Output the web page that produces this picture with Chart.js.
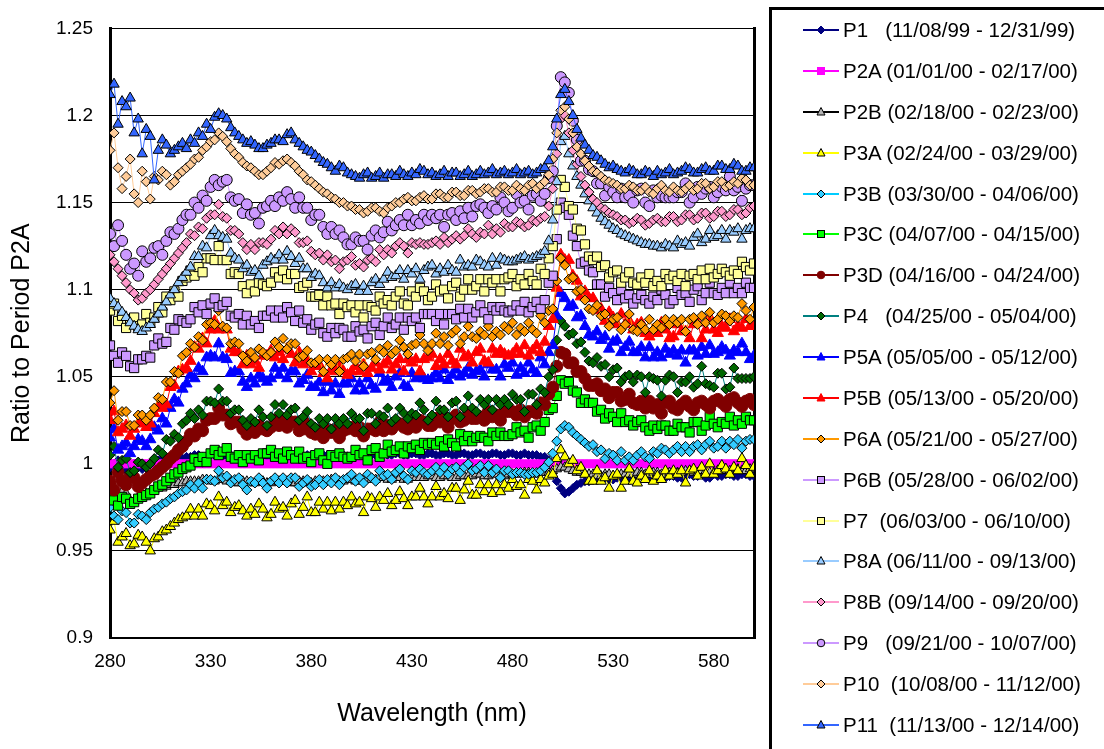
<!DOCTYPE html>
<html><head><meta charset="utf-8">
<script src="https://cdn.jsdelivr.net/npm/chart.js@4"></script>
<style>
html,body{margin:0;padding:0;background:#fff;}
#wrap{position:relative;width:1104px;height:749px;overflow:hidden;background:#fff;}
#c{position:absolute;left:0;top:0;}
#legend{position:absolute;left:769px;top:7px;width:400px;height:800px;border:3px solid #000;box-sizing:border-box;}
.row{position:absolute;left:0;height:24px;display:flex;align-items:center;font:20.5px 'Liberation Sans',Arial,sans-serif;white-space:pre;color:#000;}
.row svg{margin-left:31px;margin-right:4px;flex:none;}
</style></head>
<body>
<div id="wrap">
<canvas id="c" width="1104" height="749"></canvas>
<div id="legend"></div>
</div>
<script>
const wavelengths = [
280,282,284,286,288,290,292,294,296,298,300,302,304,306,308,310,312,314,316,318,
320,322,324,326,328,330,332,334,336,338,340,342,344,346,348,350,352,354,356,358,
360,362,364,366,368,370,372,374,376,378,380,382,384,386,388,390,392,394,396,398,
400,402,404,406,408,410,412,414,416,418,420,422,424,426,428,430,432,434,436,438,
440,442,444,446,448,450,452,454,456,458,460,462,464,466,468,470,472,474,476,478,
480,482,484,486,488,490,492,494,496,498,500,502,504,506,508,510,512,514,516,518,
520,522,524,526,528,530,532,534,536,538,540,542,544,546,548,550,552,554,556,558,
560,562,564,566,568,570,572,574,576,578,580,582,584,586,588,590,592,594,596,598,
600];
const xTicks = [280,330,380,430,480,530,580];
const yTicks = [0.9,0.95,1,1.05,1.1,1.15,1.2,1.25];
const seriesNames = ["P1","P2A","P2B","P3A","P3B","P3C","P3D","P4","P5A","P5B","P6A","P6B","P7","P8A","P8B","P9","P10","P11"];
const periodLabels = ["P1   (11/08/99 - 12/31/99)","P2A (01/01/00 - 02/17/00)","P2B (02/18/00 - 02/23/00)","P3A (02/24/00 - 03/29/00)","P3B (03/30/00 - 04/06/00)","P3C (04/07/00 - 04/15/00)","P3D (04/16/00 - 04/24/00)","P4   (04/25/00 - 05/04/00)","P5A (05/05/00 - 05/12/00)","P5B (05/13/00 - 05/20/00)","P6A (05/21/00 - 05/27/00)","P6B (05/28/00 - 06/02/00)","P7  (06/03/00 - 06/10/00)","P8A (06/11/00 - 09/13/00)","P8B (09/14/00 - 09/20/00)","P9   (09/21/00 - 10/07/00)","P10  (10/08/00 - 11/12/00)","P11  (11/13/00 - 12/14/00)"];

const p1 = [
0.998,1.0,1.002,0.999,0.996,0.998,1.0,0.998,0.997,0.999,1.0,1.001,1.002,1.003,1.003,1.004,1.004,1.003,1.003,1.004,
1.004,1.005,1.005,1.004,1.004,1.005,1.005,1.004,1.004,1.005,1.005,1.004,1.004,1.005,1.005,1.004,1.004,1.005,1.005,1.004,
1.004,1.005,1.005,1.004,1.004,1.005,1.005,1.004,1.004,1.005,1.005,1.004,1.004,1.005,1.005,1.004,1.004,1.005,1.005,1.004,
1.004,1.005,1.005,1.004,1.004,1.005,1.005,1.006,1.006,1.005,1.005,1.006,1.006,1.005,1.005,1.006,1.006,1.005,1.005,1.006,
1.006,1.005,1.005,1.006,1.006,1.005,1.005,1.006,1.006,1.005,1.005,1.006,1.006,1.005,1.005,1.006,1.006,1.005,1.005,1.006,
1.006,1.005,1.005,1.006,1.005,1.005,1.005,1.004,1.004,1.002,0.997,0.99,0.986,0.983,0.984,0.986,0.988,0.989,0.99,0.99,
0.991,0.991,0.992,0.992,0.991,0.991,0.992,0.992,0.991,0.991,0.992,0.993,0.993,0.992,0.992,0.993,0.993,0.992,0.992,0.993,
0.993,0.992,0.992,0.993,0.994,0.993,0.993,0.994,0.992,0.992,0.994,0.993,0.993,0.994,0.994,0.993,0.993,0.994,0.994,0.993,
0.993];
const p2a = [
1,1,1,1,1,1,1,1,1,1,1,1,1,1,1,1,1,1,1,1,
1,1,1,1,1,1,1,1,1,1,1,1,1,1,1,1,1,1,1,1,
1,1,1,1,1,1,1,1,1,1,1,1,1,1,1,1,1,1,1,1,
1,1,1,1,1,1,1,1,1,1,1,1,1,1,1,1,1,1,1,1,
1,1,1,1,1,1,1,1,1,1,1,1,1,1,1,1,1,1,1,1,
1,1,1,1,1,1,1,1,1,1,1,1,1,1,1,1,1,1,1,1,
1,1,1,1,1,1,1,1,1,1,1,1,1,1,1,1,1,1,1,1,
1,1,1,1,1,1,1,1,1,1,1,1,1,1,1,1,1,1,1,1,
1];
const p2b = [
0.985,0.982,0.98,0.984,0.983,0.979,0.978,0.981,0.982,0.983,0.984,0.985,0.986,0.986,0.987,0.988,0.988,0.989,0.989,0.99,
0.99,0.99,0.99,0.991,0.991,0.99,0.99,0.991,0.991,0.99,0.99,0.989,0.989,0.99,0.99,0.989,0.989,0.99,0.99,0.989,
0.989,0.99,0.99,0.99,0.99,0.989,0.989,0.99,0.99,0.989,0.989,0.99,0.99,0.99,0.99,0.991,0.991,0.99,0.99,0.991,
0.991,0.99,0.99,0.991,0.991,0.991,0.991,0.992,0.992,0.991,0.991,0.992,0.992,0.991,0.991,0.992,0.992,0.992,0.992,0.993,
0.993,0.992,0.992,0.993,0.993,0.992,0.992,0.993,0.993,0.993,0.993,0.994,0.994,0.993,0.993,0.994,0.994,0.993,0.993,0.994,
0.994,0.994,0.994,0.995,0.995,0.994,0.994,0.995,0.995,0.995,0.996,0.997,0.998,0.998,0.997,0.996,0.995,0.995,0.994,0.994,
0.994,0.993,0.993,0.994,0.994,0.993,0.993,0.994,0.994,0.994,0.994,0.995,0.995,0.994,0.994,0.995,0.995,0.994,0.994,0.995,
0.995,0.995,0.995,0.996,0.996,0.995,0.995,0.996,0.996,0.995,0.995,0.996,0.996,0.996,0.996,0.997,0.997,0.996,0.996,0.997,
0.997];
const p3a = [
0.962,0.967,0.955,0.958,0.96,0.953,0.954,0.959,0.958,0.955,0.95,0.957,0.958,0.961,0.962,0.964,0.966,0.968,0.969,0.97,
0.974,0.970,0.974,0.970,0.977,0.976,0.973,0.981,0.976,0.978,0.972,0.975,0.976,0.973,0.970,0.974,0.971,0.977,0.974,0.969,
0.971,0.978,0.974,0.975,0.970,0.977,0.979,0.971,0.975,0.981,0.972,0.972,0.978,0.974,0.978,0.973,0.978,0.974,0.978,0.976,
0.981,0.977,0.978,0.972,0.981,0.980,0.975,0.981,0.979,0.983,0.976,0.979,0.984,0.980,0.976,0.981,0.981,0.986,0.981,0.977,
0.981,0.987,0.981,0.983,0.980,0.986,0.986,0.979,0.985,0.990,0.982,0.982,0.988,0.984,0.988,0.983,0.988,0.984,0.988,0.986,
0.991,0.987,0.988,0.982,0.991,0.990,0.985,0.991,0.989,0.993,0.994,1.003,1.008,1.004,1.000,1.002,0.996,0.998,0.994,0.990,
0.990,0.996,0.990,0.992,0.986,0.993,0.994,0.986,0.990,0.997,0.990,0.989,0.993,0.991,0.996,0.990,0.993,0.991,0.996,0.993,
0.996,0.994,0.996,0.989,0.996,0.997,0.993,0.998,0.994,1.000,0.994,0.996,0.999,0.997,0.994,0.998,0.996,1.003,0.999,0.994,
0.998];
const p3b = [
0.975,0.97,0.968,0.973,0.972,0.966,0.966,0.971,0.97,0.968,0.972,0.974,0.975,0.977,0.978,0.98,0.981,0.983,0.984,0.985,
0.988,0.986,0.989,0.986,0.991,0.991,0.990,0.996,0.992,0.993,0.989,0.991,0.992,0.988,0.985,0.990,0.989,0.992,0.989,0.986,
0.990,0.992,0.989,0.992,0.989,0.992,0.992,0.987,0.989,0.991,0.987,0.988,0.991,0.988,0.991,0.989,0.992,0.988,0.991,0.992,
0.994,0.990,0.992,0.989,0.994,0.992,0.990,0.996,0.993,0.994,0.991,0.995,0.997,0.993,0.991,0.996,0.995,0.997,0.995,0.994,
0.996,0.998,0.995,0.998,0.994,0.997,0.998,0.995,0.998,1.000,0.996,0.997,0.999,0.995,0.999,0.995,0.997,0.992,0.996,0.996,
0.994,0.995,0.995,0.994,0.994,0.995,0.995,0.996,0.998,1.001,1.006,1.013,1.02,1.022,1.021,1.018,1.016,1.014,1.012,1.01,
1.011,1.007,1.008,1.003,1.006,1.005,1.002,1.007,1.002,1.004,1.002,1.005,1.007,1.004,1.003,1.007,1.006,1.009,1.008,1.006,
1.008,1.010,1.007,1.010,1.007,1.010,1.011,1.008,1.011,1.013,1.009,1.010,1.013,1.009,1.013,1.011,1.014,1.009,1.013,1.014,
1.014];
const p3c = [
0.982,0.979,0.976,0.981,0.98,0.977,0.978,0.98,0.981,0.982,0.983,0.985,0.987,0.988,0.99,0.992,0.994,0.995,0.997,0.998,
0.999,1.003,1.001,1.004,1.001,1.006,1.008,1.005,1.007,1.009,1.004,1.003,1.005,1.001,1.005,1.003,1.005,1.002,1.006,1.006,
1.008,1.004,1.006,1.003,1.007,1.005,1.003,1.007,1.003,1.004,1.001,1.005,1.006,1.002,1.000,1.005,1.004,1.006,1.004,1.003,
1.004,1.008,1.005,1.006,1.002,1.008,1.009,1.004,1.006,1.011,1.007,1.008,1.010,1.006,1.010,1.009,1.011,1.008,1.012,1.011,
1.012,1.011,1.013,1.010,1.014,1.012,1.010,1.017,1.013,1.016,1.013,1.015,1.016,1.015,1.013,1.018,1.016,1.018,1.016,1.016,
1.017,1.021,1.018,1.019,1.015,1.021,1.022,1.019,1.024,1.031,1.032,1.039,1.048,1.046,1.047,1.042,1.041,1.035,1.037,1.035,
1.035,1.030,1.031,1.026,1.029,1.027,1.024,1.029,1.024,1.025,1.022,1.024,1.025,1.021,1.019,1.022,1.020,1.022,1.022,1.019,
1.019,1.023,1.021,1.021,1.018,1.024,1.024,1.019,1.022,1.027,1.023,1.021,1.024,1.023,1.027,1.022,1.025,1.023,1.027,1.025,
1.025];
const p3d = [
0.99,0.985,0.995,0.99,0.988,0.993,0.992,0.987,0.989,0.991,0.993,0.994,0.996,0.998,1.0,1.003,1.005,1.008,1.01,1.013,
1.017,1.016,1.020,1.019,1.025,1.026,1.026,1.032,1.028,1.028,1.023,1.024,1.024,1.020,1.017,1.020,1.018,1.022,1.020,1.019,
1.021,1.025,1.022,1.025,1.021,1.024,1.024,1.019,1.020,1.023,1.018,1.017,1.019,1.015,1.020,1.018,1.020,1.015,1.019,1.020,
1.021,1.019,1.021,1.016,1.020,1.020,1.019,1.024,1.019,1.022,1.020,1.023,1.023,1.021,1.020,1.024,1.021,1.025,1.024,1.022,
1.022,1.026,1.024,1.026,1.021,1.026,1.028,1.024,1.025,1.029,1.026,1.026,1.027,1.025,1.030,1.027,1.028,1.025,1.030,1.030,
1.030,1.028,1.031,1.027,1.030,1.030,1.029,1.035,1.034,1.040,1.044,1.056,1.064,1.063,1.058,1.058,1.053,1.053,1.049,1.045,
1.045,1.046,1.042,1.043,1.038,1.041,1.041,1.036,1.037,1.040,1.035,1.034,1.036,1.032,1.036,1.032,1.034,1.029,1.035,1.036,
1.032,1.031,1.034,1.036,1.033,1.031,1.035,1.036,1.034,1.032,1.036,1.037,1.035,1.033,1.037,1.038,1.035,1.033,1.036,1.037,
1.034];
const p4 = [
1.005,1.010,0.998,1.002,1.003,0.995,0.996,1.001,1.000,0.998,1.000,1.003,1.008,1.006,1.014,1.013,1.017,1.015,1.023,1.025,
1.029,1.026,1.031,1.028,1.036,1.036,1.035,1.043,1.036,1.036,1.029,1.031,1.031,1.025,1.022,1.026,1.024,1.031,1.027,1.022,
1.027,1.034,1.029,1.034,1.028,1.031,1.032,1.025,1.027,1.030,1.023,1.021,1.026,1.023,1.026,1.020,1.026,1.023,1.026,1.023,
1.029,1.026,1.026,1.019,1.029,1.029,1.023,1.028,1.027,1.032,1.024,1.026,1.032,1.029,1.026,1.029,1.028,1.035,1.031,1.025,
1.028,1.036,1.031,1.031,1.027,1.035,1.036,1.027,1.032,1.039,1.032,1.030,1.037,1.034,1.037,1.031,1.037,1.034,1.037,1.034,
1.040,1.037,1.037,1.030,1.040,1.040,1.034,1.043,1.041,1.050,1.054,1.071,1.082,1.079,1.074,1.075,1.069,1.070,1.064,1.059,
1.058,1.061,1.056,1.057,1.050,1.054,1.055,1.047,1.050,1.051,1.047,1.051,1.050,1.041,1.050,1.049,1.048,1.039,1.048,1.051,
1.050,1.041,1.047,1.047,1.050,1.044,1.046,1.056,1.046,1.045,1.044,1.052,1.052,1.043,1.044,1.055,1.049,1.049,1.049,1.049,
1.05];
const p5a = [
1.015,1.020,1.008,1.010,1.012,1.006,1.010,1.014,1.013,1.010,1.014,1.021,1.019,1.026,1.023,1.032,1.037,1.035,1.043,1.046,
1.051,1.049,1.055,1.053,1.061,1.062,1.061,1.069,1.061,1.060,1.052,1.053,1.053,1.047,1.044,1.049,1.046,1.051,1.049,1.047,
1.049,1.055,1.051,1.055,1.049,1.053,1.053,1.046,1.048,1.051,1.044,1.044,1.047,1.041,1.047,1.042,1.046,1.040,1.046,1.046,
1.049,1.042,1.046,1.042,1.049,1.045,1.043,1.052,1.047,1.048,1.044,1.050,1.052,1.045,1.044,1.052,1.049,1.051,1.049,1.048,
1.049,1.052,1.049,1.054,1.048,1.051,1.054,1.050,1.052,1.055,1.051,1.053,1.054,1.050,1.057,1.054,1.054,1.050,1.057,1.055,
1.058,1.051,1.055,1.052,1.058,1.054,1.052,1.061,1.057,1.064,1.068,1.085,1.098,1.095,1.090,1.091,1.084,1.085,1.079,1.074,
1.073,1.076,1.071,1.073,1.066,1.070,1.071,1.064,1.067,1.070,1.064,1.064,1.067,1.061,1.067,1.061,1.064,1.061,1.066,1.063,
1.065,1.062,1.065,1.058,1.065,1.065,1.062,1.067,1.063,1.068,1.063,1.064,1.067,1.065,1.062,1.065,1.064,1.069,1.064,1.060,
1.062];
const p5b = [
1.025,1.03,1.018,1.02,1.022,1.016,1.02,1.023,1.024,1.021,1.023,1.029,1.033,1.032,1.034,1.044,1.045,1.053,1.054,1.055,
1.059,1.067,1.066,1.072,1.069,1.077,1.082,1.077,1.078,1.077,1.066,1.064,1.064,1.057,1.062,1.057,1.059,1.055,1.062,1.062,
1.065,1.061,1.064,1.060,1.066,1.063,1.058,1.064,1.057,1.059,1.053,1.056,1.057,1.052,1.049,1.054,1.053,1.056,1.053,1.051,
1.053,1.056,1.053,1.057,1.052,1.055,1.058,1.054,1.057,1.059,1.054,1.057,1.060,1.053,1.060,1.058,1.060,1.053,1.060,1.061,
1.063,1.056,1.060,1.057,1.063,1.059,1.057,1.066,1.061,1.062,1.058,1.064,1.066,1.059,1.058,1.066,1.063,1.065,1.063,1.062,
1.063,1.066,1.063,1.068,1.062,1.065,1.068,1.064,1.070,1.079,1.083,1.101,1.120,1.117,1.117,1.108,1.105,1.096,1.099,1.095,
1.095,1.088,1.089,1.082,1.087,1.084,1.080,1.086,1.080,1.082,1.077,1.080,1.081,1.075,1.073,1.077,1.075,1.081,1.077,1.072,
1.073,1.080,1.076,1.076,1.072,1.080,1.081,1.072,1.077,1.084,1.077,1.075,1.079,1.078,1.083,1.076,1.079,1.078,1.083,1.079,
1.079];
const p6a = [
1.035,1.042,1.025,1.03,1.03,1.022,1.022,1.028,1.028,1.025,1.028,1.032,1.038,1.037,1.047,1.047,1.053,1.052,1.062,1.064,
1.069,1.067,1.073,1.071,1.080,1.081,1.080,1.088,1.079,1.078,1.069,1.070,1.069,1.062,1.059,1.064,1.061,1.066,1.064,1.062,
1.064,1.070,1.067,1.072,1.066,1.069,1.069,1.061,1.062,1.065,1.058,1.058,1.060,1.053,1.060,1.057,1.060,1.053,1.060,1.061,
1.063,1.059,1.063,1.056,1.063,1.064,1.060,1.066,1.064,1.068,1.063,1.065,1.071,1.067,1.063,1.068,1.069,1.074,1.069,1.065,
1.069,1.075,1.069,1.073,1.068,1.075,1.077,1.069,1.073,1.079,1.073,1.072,1.076,1.074,1.079,1.073,1.076,1.074,1.079,1.077,
1.081,1.074,1.078,1.076,1.081,1.077,1.075,1.085,1.081,1.088,1.089,1.105,1.118,1.114,1.106,1.107,1.099,1.100,1.094,1.089,
1.088,1.091,1.085,1.086,1.079,1.083,1.084,1.077,1.080,1.086,1.077,1.076,1.080,1.077,1.083,1.077,1.080,1.078,1.083,1.080,
1.083,1.081,1.083,1.076,1.083,1.084,1.080,1.085,1.081,1.087,1.081,1.083,1.086,1.085,1.082,1.085,1.084,1.092,1.088,1.083,
1.09];
const p6b = [
1.068,1.062,1.058,1.064,1.062,1.056,1.055,1.06,1.06,1.062,1.061,1.068,1.072,1.069,1.070,1.078,1.077,1.083,1.082,1.081,
1.083,1.090,1.087,1.091,1.086,1.092,1.095,1.090,1.091,1.093,1.085,1.084,1.086,1.080,1.085,1.080,1.082,1.078,1.085,1.085,
1.088,1.084,1.088,1.084,1.090,1.087,1.082,1.088,1.081,1.083,1.077,1.080,1.081,1.075,1.073,1.078,1.075,1.078,1.077,1.073,
1.073,1.079,1.076,1.077,1.072,1.079,1.081,1.074,1.079,1.084,1.078,1.080,1.084,1.077,1.084,1.082,1.084,1.078,1.086,1.086,
1.086,1.082,1.086,1.080,1.086,1.086,1.083,1.089,1.084,1.089,1.084,1.087,1.091,1.087,1.083,1.090,1.088,1.090,1.088,1.087,
1.088,1.091,1.088,1.093,1.087,1.090,1.093,1.089,1.094,1.104,1.108,1.129,1.150,1.147,1.143,1.131,1.125,1.115,1.116,1.111,
1.110,1.103,1.103,1.096,1.101,1.098,1.094,1.100,1.095,1.097,1.092,1.095,1.097,1.094,1.092,1.096,1.094,1.100,1.097,1.092,
1.094,1.101,1.097,1.098,1.093,1.100,1.102,1.094,1.098,1.104,1.098,1.097,1.101,1.098,1.104,1.098,1.101,1.098,1.104,1.101,
1.101];
const p7 = [
1.088,1.092,1.082,1.085,1.078,1.083,1.084,1.079,1.08,1.086,1.081,1.084,1.090,1.087,1.096,1.094,1.099,1.096,1.105,1.107,
1.111,1.108,1.113,1.110,1.118,1.118,1.117,1.125,1.117,1.117,1.109,1.110,1.109,1.102,1.098,1.103,1.099,1.104,1.103,1.102,
1.104,1.110,1.107,1.111,1.106,1.109,1.109,1.101,1.102,1.104,1.096,1.096,1.097,1.091,1.096,1.091,1.092,1.086,1.092,1.090,
1.091,1.087,1.091,1.084,1.091,1.090,1.088,1.096,1.092,1.094,1.091,1.096,1.099,1.092,1.091,1.099,1.096,1.101,1.099,1.094,
1.096,1.103,1.099,1.100,1.095,1.102,1.104,1.096,1.100,1.106,1.100,1.102,1.106,1.099,1.106,1.104,1.106,1.099,1.106,1.107,
1.109,1.102,1.106,1.103,1.109,1.105,1.103,1.112,1.109,1.118,1.125,1.146,1.163,1.159,1.148,1.146,1.135,1.134,1.126,1.119,
1.117,1.119,1.113,1.114,1.107,1.110,1.111,1.104,1.107,1.110,1.104,1.103,1.107,1.104,1.109,1.102,1.105,1.102,1.109,1.106,
1.108,1.105,1.109,1.102,1.108,1.109,1.106,1.111,1.106,1.112,1.107,1.109,1.112,1.110,1.108,1.111,1.109,1.116,1.113,1.111,
1.115];
const p8a = [
1.095,1.092,1.09,1.087,1.084,1.081,1.079,1.077,1.076,1.078,1.08,1.083,1.086,1.09,1.093,1.097,1.1,1.104,1.107,1.11,
1.113,1.119,1.119,1.125,1.124,1.131,1.134,1.131,1.130,1.129,1.121,1.118,1.117,1.112,1.114,1.110,1.111,1.108,1.114,1.116,
1.118,1.117,1.120,1.117,1.122,1.119,1.115,1.118,1.112,1.112,1.107,1.109,1.108,1.104,1.101,1.104,1.101,1.103,1.101,1.100,
1.102,1.103,1.099,1.102,1.099,1.104,1.106,1.103,1.106,1.110,1.107,1.108,1.111,1.106,1.111,1.109,1.112,1.106,1.111,1.113,
1.114,1.109,1.112,1.110,1.114,1.111,1.110,1.117,1.113,1.114,1.113,1.117,1.116,1.114,1.113,1.118,1.114,1.118,1.117,1.116,
1.116,1.117,1.118,1.119,1.117,1.118,1.119,1.12,1.122,1.128,1.14,1.162,1.185,1.188,1.178,1.171,1.165,1.16,1.155,1.151,
1.147,1.144,1.141,1.139,1.137,1.135,1.134,1.132,1.131,1.13,1.129,1.128,1.127,1.126,1.126,1.125,1.125,1.124,1.126,1.125,
1.124,1.128,1.126,1.127,1.125,1.130,1.132,1.127,1.129,1.134,1.130,1.131,1.134,1.129,1.134,1.133,1.135,1.129,1.134,1.135,
1.135];
const p8b = [
1.12,1.116,1.112,1.108,1.104,1.1,1.098,1.094,1.095,1.098,1.1,1.103,1.106,1.109,1.112,1.115,1.118,1.121,1.124,1.127,
1.132,1.131,1.136,1.135,1.141,1.143,1.143,1.149,1.142,1.141,1.134,1.134,1.132,1.127,1.123,1.126,1.123,1.127,1.127,1.126,
1.129,1.134,1.132,1.136,1.132,1.135,1.133,1.127,1.127,1.128,1.122,1.120,1.121,1.117,1.120,1.116,1.117,1.112,1.116,1.117,
1.119,1.114,1.115,1.113,1.117,1.118,1.116,1.123,1.120,1.123,1.121,1.125,1.127,1.125,1.121,1.127,1.126,1.127,1.126,1.126,
1.127,1.128,1.126,1.130,1.127,1.129,1.131,1.129,1.131,1.135,1.132,1.130,1.133,1.132,1.137,1.132,1.135,1.133,1.138,1.136,
1.136,1.139,1.138,1.136,1.137,1.14,1.139,1.141,1.142,1.148,1.158,1.178,1.198,1.2,1.19,1.18,1.172,1.165,1.16,1.156,
1.152,1.15,1.147,1.146,1.144,1.143,1.142,1.14,1.14,1.138,1.139,1.141,1.14,1.137,1.138,1.14,1.141,1.139,1.139,1.142,
1.142,1.139,1.14,1.143,1.143,1.14,1.141,1.144,1.144,1.141,1.142,1.145,1.145,1.142,1.143,1.146,1.146,1.143,1.144,1.147,
1.148];
const p9 = [
1.132,1.125,1.137,1.128,1.12,1.112,1.115,1.108,1.122,1.116,1.118,1.124,1.125,1.12,1.128,1.133,1.132,1.135,1.14,1.143,
1.143,1.150,1.147,1.154,1.151,1.159,1.163,1.160,1.162,1.163,1.153,1.151,1.152,1.144,1.149,1.143,1.144,1.138,1.147,1.148,
1.151,1.148,1.153,1.151,1.156,1.152,1.147,1.153,1.147,1.147,1.140,1.143,1.143,1.136,1.132,1.136,1.132,1.134,1.130,1.126,
1.126,1.130,1.128,1.128,1.123,1.131,1.134,1.130,1.133,1.139,1.134,1.137,1.140,1.137,1.143,1.137,1.140,1.138,1.143,1.140,
1.143,1.141,1.143,1.136,1.143,1.144,1.140,1.145,1.141,1.147,1.142,1.148,1.149,1.147,1.144,1.148,1.146,1.153,1.150,1.145,
1.147,1.155,1.150,1.151,1.146,1.154,1.155,1.151,1.155,1.164,1.168,1.194,1.222,1.219,1.213,1.197,1.186,1.174,1.174,1.169,
1.168,1.161,1.161,1.154,1.159,1.156,1.153,1.158,1.153,1.154,1.150,1.157,1.158,1.150,1.148,1.157,1.153,1.154,1.153,1.153,
1.153,1.156,1.156,1.161,1.150,1.153,1.159,1.155,1.158,1.159,1.153,1.156,1.159,1.157,1.165,1.157,1.159,1.151,1.158,1.160,
1.16];
const p10 = [
1.18,1.19,1.17,1.158,1.165,1.175,1.155,1.15,1.168,1.162,1.152,1.165,1.163,1.168,1.166,1.16,1.162,1.166,1.168,1.17,
1.172,1.175,1.176,1.18,1.182,1.185,1.186,1.19,1.188,1.185,1.181,1.178,1.176,1.173,1.171,1.17,1.168,1.166,1.166,1.168,
1.17,1.173,1.172,1.174,1.175,1.173,1.171,1.168,1.166,1.163,1.162,1.16,1.158,1.156,1.155,1.153,1.152,1.15,1.15,1.148,
1.148,1.146,1.146,1.144,1.145,1.147,1.147,1.145,1.144,1.147,1.148,1.15,1.15,1.152,1.153,1.151,1.151,1.153,1.154,1.152,
1.152,1.155,1.155,1.153,1.153,1.156,1.156,1.154,1.154,1.157,1.157,1.155,1.156,1.158,1.158,1.156,1.156,1.159,1.159,1.157,
1.157,1.16,1.158,1.157,1.16,1.161,1.158,1.16,1.162,1.166,1.175,1.19,1.203,1.205,1.198,1.19,1.182,1.178,1.174,1.171,
1.168,1.167,1.165,1.163,1.162,1.161,1.16,1.158,1.158,1.16,1.159,1.157,1.157,1.159,1.156,1.155,1.158,1.16,1.157,1.156,
1.159,1.157,1.156,1.158,1.16,1.157,1.158,1.161,1.161,1.158,1.159,1.162,1.162,1.159,1.16,1.162,1.161,1.164,1.163,1.16,
1.16];
const p11 = [
1.212,1.218,1.195,1.208,1.205,1.21,1.19,1.198,1.178,1.192,1.188,1.163,1.18,1.186,1.183,1.178,1.18,1.182,1.184,1.181,
1.186,1.184,1.19,1.188,1.195,1.192,1.199,1.201,1.2,1.198,1.193,1.19,1.188,1.186,1.184,1.185,1.183,1.181,1.181,1.183,
1.184,1.186,1.186,1.185,1.189,1.19,1.186,1.184,1.182,1.18,1.179,1.177,1.175,1.173,1.172,1.17,1.168,1.171,1.17,1.167,
1.166,1.165,1.164,1.166,1.167,1.164,1.165,1.167,1.164,1.166,1.166,1.165,1.168,1.166,1.165,1.167,1.166,1.169,1.168,1.166,
1.167,1.165,1.166,1.168,1.165,1.167,1.167,1.165,1.166,1.168,1.165,1.166,1.168,1.166,1.167,1.169,1.166,1.167,1.168,1.166,
1.167,1.169,1.166,1.167,1.168,1.166,1.167,1.169,1.17,1.174,1.182,1.198,1.212,1.215,1.208,1.2,1.192,1.187,1.183,1.18,
1.177,1.176,1.174,1.172,1.17,1.171,1.169,1.168,1.167,1.169,1.168,1.166,1.166,1.168,1.167,1.165,1.168,1.166,1.167,1.169,
1.166,1.167,1.168,1.17,1.169,1.167,1.167,1.169,1.17,1.168,1.168,1.171,1.171,1.169,1.169,1.172,1.171,1.168,1.168,1.17,
1.17];

const seriesValues = [p1,p2a,p2b,p3a,p3b,p3c,p3d,p4,p5a,p5b,p6a,p6b,p7,p8a,p8b,p9,p10,p11];

// style per series: line colour, marker shape, marker fill, marker border, radius
const styles = [
  {line:'#000080', shape:'rectRot', fill:'#000080', edge:'#000080', r:4.5},
  {line:'#FF00FF', shape:'rect', fill:'#FF00FF', edge:'#FF00FF', r:5.5},
  {line:'#000000', shape:'triangle', fill:'#B4B4B4', edge:'#000000', r:5.5},
  {line:'#FFFF00', shape:'triangle', fill:'#FFFF00', edge:'#000000', r:6},
  {line:'#00CCFF', shape:'rectRot', fill:'#33CCFF', edge:'#000000', r:5},
  {line:'#00FF00', shape:'rect', fill:'#00FF00', edge:'#000000', r:6.5},
  {line:'#800000', shape:'circle', fill:'#800000', edge:'#800000', r:6},
  {line:'#008080', shape:'rectRot', fill:'#006600', edge:'#000000', r:5},
  {line:'#0000FF', shape:'triangle', fill:'#0000FF', edge:'#0000FF', r:6.5},
  {line:'#FF0000', shape:'triangle', fill:'#FF0000', edge:'#FF0000', r:6.5},
  {line:'#FF9900', shape:'rectRot', fill:'#FF9900', edge:'#000000', r:5},
  {line:'#CC99FF', shape:'rect', fill:'#CC99FF', edge:'#000000', r:6.5},
  {line:'#FFFF99', shape:'rect', fill:'#FFFF99', edge:'#000000', r:6.5},
  {line:'#99CCFF', shape:'triangle', fill:'#99CCFF', edge:'#000000', r:6},
  {line:'#FF99CC', shape:'rectRot', fill:'#FF99CC', edge:'#000000', r:5},
  {line:'#CC99FF', shape:'circle', fill:'#CC99FF', edge:'#000000', r:5.5},
  {line:'#FFCC99', shape:'rectRot', fill:'#FFCC99', edge:'#000000', r:5},
  {line:'#3366FF', shape:'triangle', fill:'#3366FF', edge:'#000000', r:6}
];

const N = seriesNames.length;
const datasets = seriesNames.map((name, i) => ({
  label: periodLabels[i],
  data: wavelengths.map((w, j) => ({x: w, y: seriesValues[i][j]})),
  borderColor: styles[i].line,
  borderWidth: 1,
  pointStyle: styles[i].shape,
  pointBackgroundColor: styles[i].fill,
  pointBorderColor: styles[i].edge,
  pointBorderWidth: 1,
  pointRadius: styles[i].r,
  pointHoverRadius: styles[i].r,
  tension: 0,
  fill: false,
  order: N - i,
  yAxisID: 'y'
}));

Chart.defaults.font.family = "'Liberation Sans', Arial, sans-serif";
Chart.defaults.color = '#000';

new Chart(document.getElementById('c'), {
  type: 'line',
  data: { datasets },
  options: {
    responsive: false,
    animation: false,
    events: [],
    layout: { padding: { left: 0, right: 350, top: 22, bottom: 0 } },
    plugins: { legend: { display: false }, tooltip: { enabled: false } },
    scales: {
      x: {
        type: 'linear', min: 280, max: 600,
        afterBuildTicks: s => { s.ticks = xTicks.map(v => ({value: v})); },
        afterFit: s => { s.height = 111; },
        grid: { display: false, drawTicks: false },
        border: { display: true, color: '#000', width: 1.5 },
        ticks: { font: { size: 19 }, padding: 12, maxRotation: 0, callback: v => String(v) },
        title: { display: true, text: 'Wavelength (nm)', font: { size: 25 }, padding: { top: 0, bottom: 20 } }
      },
      y: {
        type: 'linear', position: 'left', min: 0.9, max: 1.25,
        afterBuildTicks: s => { s.ticks = yTicks.map(v => ({value: v})); },
        afterFit: s => { s.width = 110; },
        grid: { color: '#000', lineWidth: 1, drawTicks: false },
        border: { display: true, color: '#000', width: 3 },
        ticks: { font: { size: 19 }, padding: 17, callback: v => String(Number(v.toFixed(2))) },
        title: { display: true, text: 'Ratio to Period P2A', font: { size: 25 }, padding: { top: 7, bottom: 0 } }
      },
      y2: {
        type: 'linear', position: 'right', min: 0.9, max: 1.25,
        afterFit: s => { s.width = 0; },
        grid: { display: false, drawTicks: false },
        ticks: { display: false },
        border: { display: true, color: '#000', width: 3 }
      }
    }
  }
});

// HTML legend
const legend = document.getElementById('legend');
function markerSvg(st) {
  const cx = 18, cy = 12;
  let m = '';
  const fill = st.fill, stroke = st.edge;
  if (st.shape === 'rectRot') m = `<polygon points="${cx-4},${cy} ${cx},${cy-4} ${cx+4},${cy} ${cx},${cy+4}" fill="${fill}" stroke="${stroke}" stroke-width="1"/>`;
  else if (st.shape === 'rect') m = `<rect x="${cx-3.5}" y="${cy-3.5}" width="7" height="7" fill="${fill}" stroke="${stroke}" stroke-width="1"/>`;
  else if (st.shape === 'triangle') m = `<polygon points="${cx},${cy-4.5} ${cx+4},${cy+3} ${cx-4},${cy+3}" fill="${fill}" stroke="${stroke}" stroke-width="1"/>`;
  else m = `<circle cx="${cx}" cy="${cy}" r="3.8" fill="${fill}" stroke="${stroke}" stroke-width="1"/>`;
  return `<svg width="36" height="24" viewBox="0 0 36 24"><line x1="0" y1="12" x2="36" y2="12" stroke="${st.line}" stroke-width="2"/>${m}</svg>`;
}
periodLabels.forEach((txt, i) => {
  const row = document.createElement('div');
  row.className = 'row';
  row.style.top = (20 + i * 40.88 - 12) + 'px';
  row.innerHTML = markerSvg(styles[i]);
  const span = document.createElement('span');
  span.textContent = txt;
  row.appendChild(span);
  legend.appendChild(row);
});
</script>
</body></html>
